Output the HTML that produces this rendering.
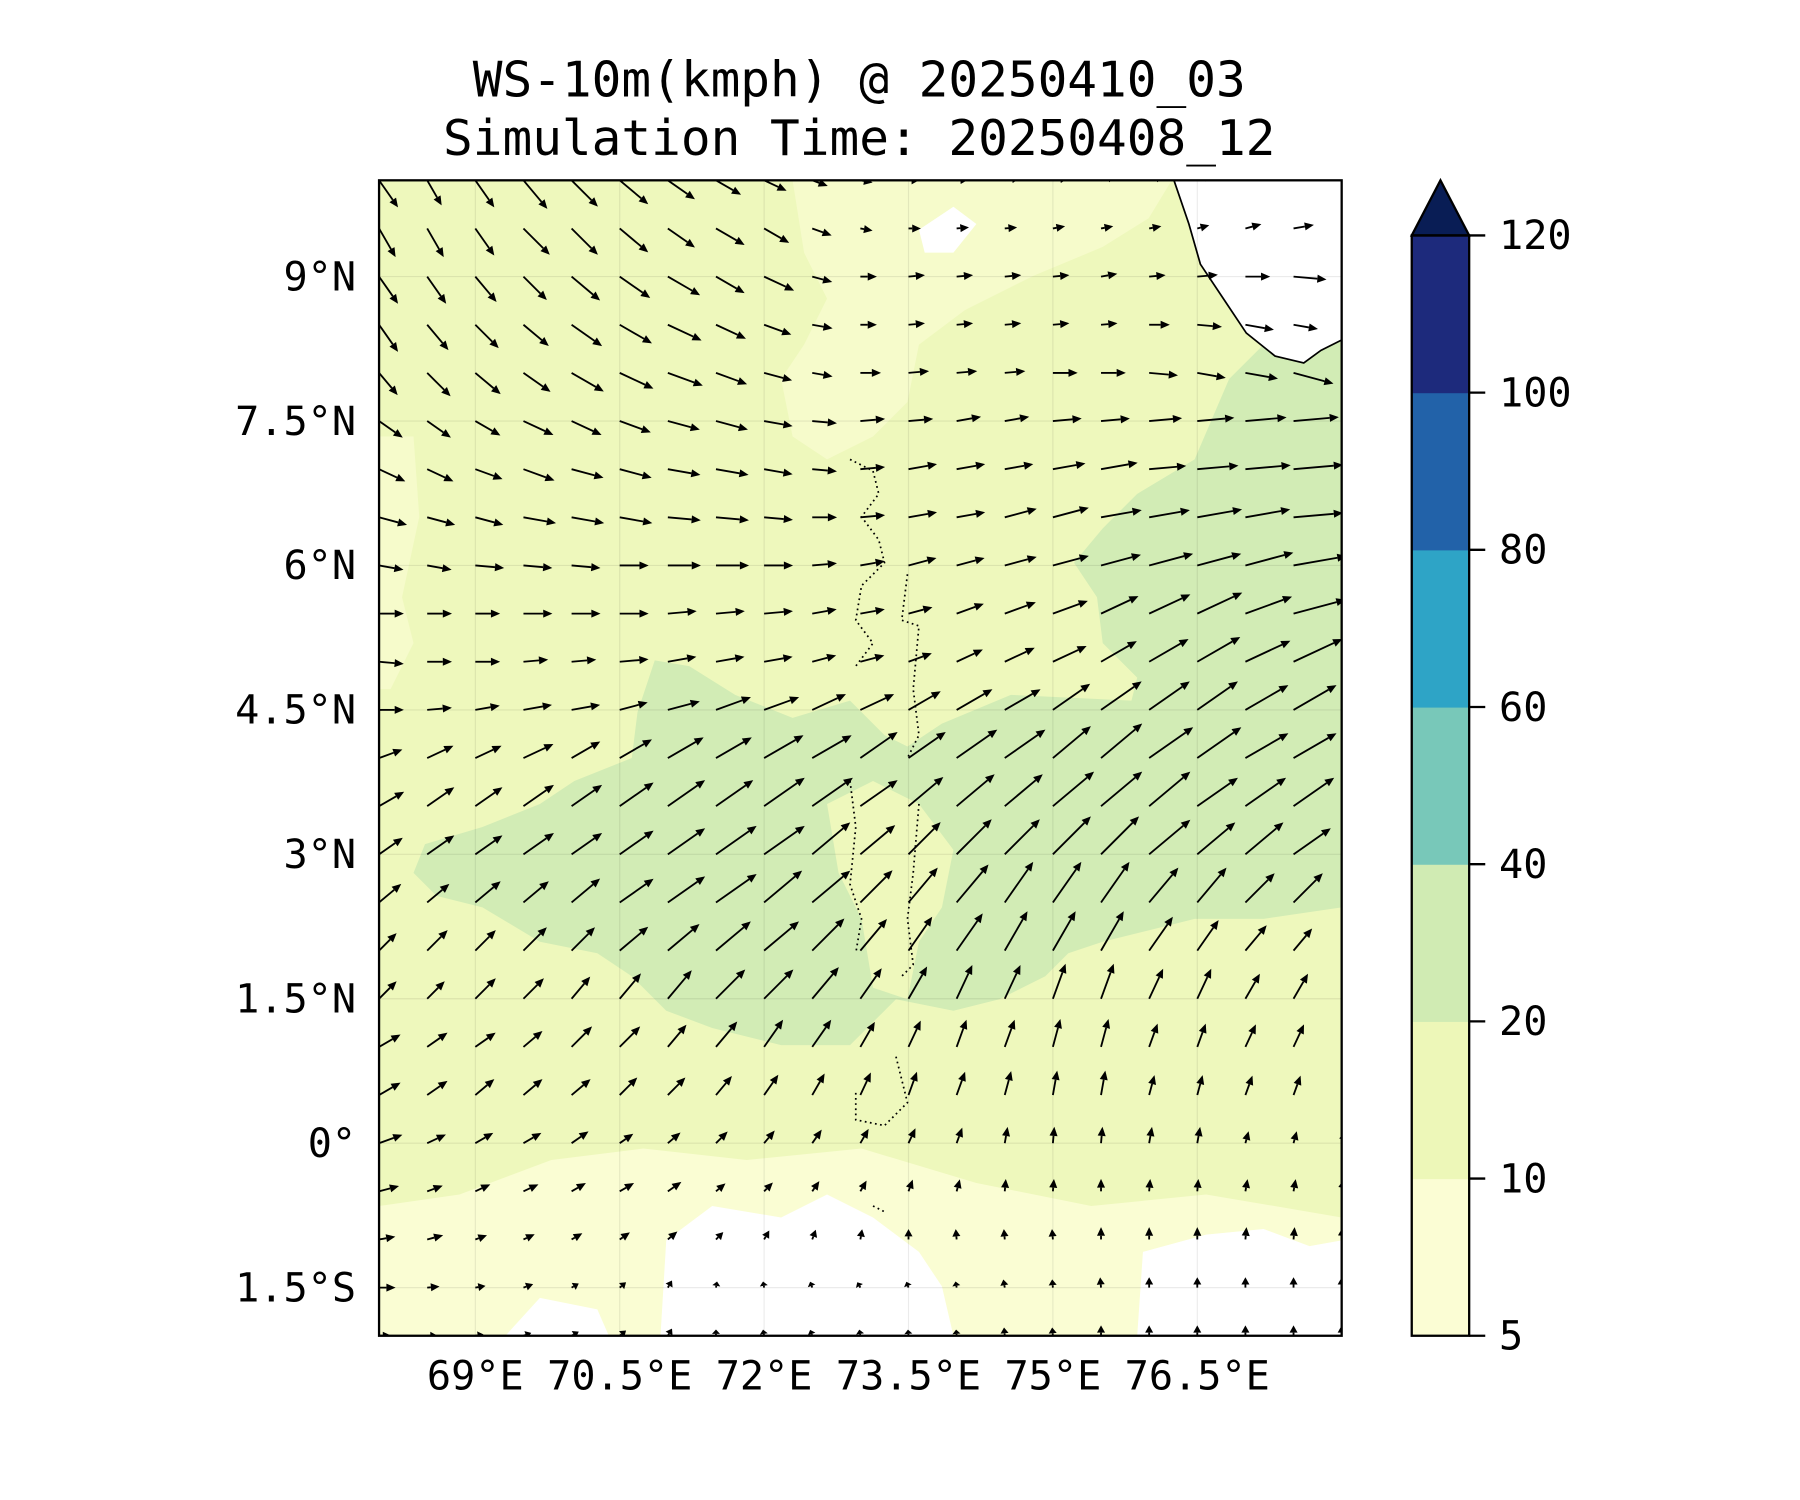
<!DOCTYPE html>
<html><head><meta charset="utf-8"><style>
html,body{margin:0;padding:0;background:#fff}
svg{display:block}
text{font-family:"DejaVu Sans Mono","Liberation Mono",monospace;fill:#000}
</style></head><body>
<svg id="chart" width="1800" height="1500" viewBox="0 0 1567 1306" preserveAspectRatio="none" xmlns="http://www.w3.org/2000/svg">
<defs><clipPath id="mapclip"><rect x="330" y="157" width="838" height="1006"/></clipPath></defs>
<text x="748" y="84" font-size="43" text-anchor="middle">WS-10m(kmph) @ 20250410_03</text>
<text x="748" y="135" font-size="43" text-anchor="middle">Simulation Time: 20250408_12</text>
<g clip-path="url(#mapclip)">
<rect x="330" y="157" width="838" height="1006" fill="#eef8bc"/>
<path fill="#f6fbcb" d="M690,157 L1020,157 L1000,190 L960,215 L900,240 L840,270 L800,300 L790,350 L760,380 L720,400 L690,380 L680,330 L700,300 L720,260 L700,220 Z"/>
<path fill="#f6fbcb" d="M330,380 L360,380 L365,450 L350,520 L360,560 L340,600 L330,600 Z"/>
<path fill="#fafdd3" d="M330,1050 L400,1040 L480,1010 L560,1000 L650,1010 L750,1000 L850,1030 L950,1050 L1050,1040 L1168,1060 L1168,1163 L330,1163 Z"/>
<path fill="#d2ecb5" d="M1168,220 L1105,230 L1100,300 L1070,330 L1040,400 L990,430 L960,460 L935,490 L955,520 L960,560 L990,590 L985,610 L880,605 L820,630 L790,650 L770,640 L740,610 L690,625 L640,605 L600,580 L570,575 L555,620 L550,660 L500,680 L470,700 L420,720 L370,735 L360,760 L380,780 L420,790 L470,820 L520,830 L550,850 L580,880 L620,895 L680,910 L740,910 L780,870 L830,880 L870,870 L910,850 L930,830 L960,820 L1000,810 L1040,800 L1100,800 L1168,790 Z"/>
<path fill="#eef8bc" d="M720,700 L760,680 L800,700 L830,740 L820,790 L800,820 L790,870 L760,860 L750,800 L730,760 Z"/>
<path fill="#ffffff" d="M575,1163 L580,1080 L620,1050 L680,1060 L720,1040 L760,1060 L800,1090 L820,1120 L830,1163 Z"/>
<path fill="#ffffff" d="M990,1163 L995,1090 L1050,1075 L1100,1070 L1140,1085 L1168,1080 L1168,1163 Z"/>
<path fill="#ffffff" d="M440,1163 L470,1130 L520,1140 L530,1163 Z"/>
<path fill="#ffffff" d="M800,200 L830,180 L850,195 L830,220 L805,220 Z"/>
<path fill="#ffffff" d="M1022,157 L1168,157 L1168,296 L1150,305 L1135,316 L1110,310 L1085,290 L1065,260 L1045,230 L1035,195 Z"/>
<path fill="none" stroke="#000" stroke-width="1.5" d="M1022,157 L1035,195 L1045,230 L1065,260 L1085,290 L1110,310 L1135,316 L1150,305 L1168,296"/>
<path fill="none" stroke="#000" stroke-width="1.5" stroke-dasharray="1.5,3" d="M740,400 L760,410 L765,430 L750,450 L765,470 L770,490 L750,510 L745,540 L760,560 L745,580 M790,500 L785,540 L800,545 L795,600 L800,640 L790,660 M740,680 L745,720 L740,770 L750,800 L745,830 M800,700 L795,760 L790,800 L795,840 L785,850 M780,920 L790,960 L770,980 L745,975 L745,950 M760,1050 L770,1055"/>
</g>
<g id="grid" clip-path="url(#mapclip)"></g>
<g id="arrows" clip-path="url(#mapclip)"></g>
<rect x="330" y="157" width="838" height="1006" fill="none" stroke="#000" stroke-width="2"/>
<g id="ticks"></g>
<g id="cbar"></g>
<script>
const lonTicks=[69,70.5,72,73.5,75,76.5];
const lonLabels=["69°E","70.5°E","72°E","73.5°E","75°E","76.5°E"];
const latTicks=[9,7.5,6,4.5,3,1.5,0,-1.5];
const latLabels=["9°N","7.5°N","6°N","4.5°N","3°N","1.5°N","0°","1.5°S"];
const cbLevels=[5,10,20,40,60,80,100,120];
const cbColors=["#fbfdd4","#edf7b8","#d0ebb3","#78c8b9","#2ea4c6","#2262a9","#1d2a7c"];
const gridLats=[10,9.5,9,8.5,8,7.5,7,6.5,6,5.5,5,4.5,4,3.5,3,2.5,2,1.5,1,0.5,0,-0.5,-1,-1.5,-2];
const gridLons=[68,68.5,69,69.5,70,70.5,71,71.5,72,72.5,73,73.5,74,74.5,75,75.5,76,76.5,77,77.5,78];
const windDir=[
[-55,-60,-55,-50,-45,-40,-35,-30,-25,-20,-10,0,5,10,10,15,15,20,20,25,25],
[-60,-60,-55,-45,-45,-40,-35,-30,-30,-20,-10,0,5,5,10,10,10,15,15,10,0],
[-55,-55,-50,-45,-40,-35,-30,-30,-25,-15,0,5,5,5,5,10,5,5,0,-5,-5],
[-55,-50,-45,-40,-35,-30,-25,-25,-20,-10,0,5,5,5,5,5,0,-5,-10,-10,15],
[-50,-45,-40,-35,-30,-25,-20,-20,-15,-10,0,5,5,5,0,0,-5,-10,-10,-15,0],
[-35,-35,-30,-25,-25,-20,-15,-15,-10,-5,5,5,10,10,5,5,5,5,5,5,5],
[-25,-25,-20,-20,-15,-15,-10,-10,-10,-5,5,10,10,10,10,10,5,5,5,5,5],
[-15,-15,-15,-10,-10,-10,-5,-5,-5,0,5,10,10,15,15,10,10,10,10,5,5],
[-10,-10,-5,-5,-5,0,0,0,0,5,10,15,15,15,15,15,15,15,15,10,10],
[0,0,0,0,0,0,5,5,5,10,10,15,20,20,20,25,25,25,20,15,15],
[-5,0,0,5,5,5,10,10,10,15,15,20,25,25,25,30,30,30,25,25,20],
[0,5,10,10,10,15,15,20,20,25,25,30,30,30,35,35,35,35,30,30,25],
[20,25,25,25,30,30,30,30,30,30,35,35,35,35,40,40,35,35,30,30,30],
[30,35,35,35,35,35,35,35,35,35,35,40,40,40,40,40,40,35,35,35,30],
[35,35,35,35,35,35,35,35,35,40,40,45,45,45,45,45,40,40,40,35,35],
[40,40,40,40,40,35,35,35,40,40,45,50,50,55,55,55,50,50,45,45,40],
[45,45,45,45,45,40,40,40,40,45,50,55,55,60,60,60,55,55,50,50,45],
[45,45,45,45,50,50,50,45,45,50,55,60,65,65,70,70,65,65,60,60,55],
[30,35,35,40,45,45,50,50,55,55,60,65,70,70,75,75,70,70,65,65,60],
[30,35,40,40,40,45,45,50,55,60,65,70,70,75,80,80,75,75,70,70,65],
[20,25,30,30,35,35,40,45,50,55,60,65,70,80,85,85,80,80,75,75,70],
[15,20,25,25,30,30,35,40,45,55,60,70,75,85,85,90,85,85,80,80,80],
[10,15,20,25,30,35,40,45,60,70,80,90,95,95,95,90,90,90,85,85,85],
[0,5,10,20,30,40,60,80,100,110,120,110,100,100,95,95,90,90,90,90,90],
[0,0,10,20,30,40,60,90,100,110,100,95,95,95,95,90,90,90,90,90,90]];
const windSpd=[
[16,14,16,18,18,18,16,14,12,8,6,5,6,8,8,8,8,8,10,14,12],
[16,16,16,18,18,18,16,16,14,10,6,6,6,6,6,6,6,6,8,10,10],
[16,16,16,16,18,18,18,16,16,10,8,8,8,8,8,8,8,10,12,16,18],
[16,16,16,16,18,18,18,16,14,10,8,8,8,8,8,8,10,12,14,12,10],
[14,16,16,16,18,18,18,16,14,10,10,10,10,10,12,12,14,14,16,20,20],
[14,14,14,16,16,16,16,16,14,12,12,12,12,12,14,14,16,18,20,22,22],
[14,14,14,16,16,16,16,16,14,12,12,14,14,14,16,18,18,20,22,24,24],
[14,14,14,16,16,16,16,16,14,12,12,14,14,16,18,20,20,22,22,24,24],
[12,12,14,14,14,14,16,16,14,12,12,14,14,16,18,20,22,22,24,26,26],
[12,12,12,14,14,14,14,14,14,12,12,12,14,16,18,20,22,24,24,26,26],
[12,12,12,12,12,14,14,14,14,12,12,12,14,16,18,20,22,24,24,26,26],
[12,12,12,14,14,14,16,18,18,18,18,18,20,20,22,24,24,24,24,24,24],
[12,14,14,16,16,18,20,20,22,22,22,22,24,24,24,26,26,26,24,24,24],
[14,16,16,18,18,20,22,22,24,24,22,22,24,24,26,26,26,24,24,24,24],
[14,16,16,18,18,20,22,24,24,24,22,22,24,24,26,26,26,24,24,22,22],
[14,14,16,16,18,20,22,24,24,24,22,22,24,24,24,24,22,22,20,20,18],
[12,14,14,16,16,18,20,22,22,22,20,20,22,22,22,22,20,18,16,14,14],
[12,12,14,14,14,16,18,20,20,20,18,18,18,18,18,18,16,16,14,14,12],
[12,12,12,12,14,14,14,16,16,16,14,14,14,14,14,14,12,12,12,12,10],
[12,12,12,12,12,12,12,12,12,12,12,12,12,12,12,12,10,10,10,10,8],
[12,10,10,10,10,8,8,8,8,8,8,8,8,8,8,8,8,8,6,6,6],
[10,8,8,8,8,8,8,6,6,6,6,6,6,6,6,6,6,6,6,6,6],
[8,8,6,6,6,6,6,5,5,5,5,5,5,5,5,6,6,6,6,6,6],
[8,6,5,5,4,4,4,3,3,3,3,3,3,4,4,5,5,5,5,5,5],
[6,5,4,4,4,4,4,3,3,3,3,3,3,4,4,5,5,5,5,5,5]];

const NS="http://www.w3.org/2000/svg";
const X0=330,X1=1168,Y0=157,Y1=1163;
function xOf(lon){return X0+(lon-68)*(X1-X0)/10;}
function yOf(lat){return Y0+(10-lat)*(Y1-Y0)/12;}
function cbY(i){return 1163-i*(1163-205)/7;}
function mk(tag,attrs,parent){const e=document.createElementNS(NS,tag);for(const k in attrs)e.setAttribute(k,attrs[k]);parent.appendChild(e);return e;}

const grid=document.getElementById('grid');
lonTicks.forEach(function(lon){
  const l=mk('line',{x1:xOf(lon),x2:xOf(lon),y1:Y0,y2:Y1,stroke:'#000','stroke-opacity':0.08,'stroke-width':1},grid);
  
  
});
latTicks.forEach(function(lat){
  const l=mk('line',{x1:X0,x2:X1,y1:yOf(lat),y2:yOf(lat),stroke:'#000','stroke-opacity':0.08,'stroke-width':1},grid);
  
  
});

const ticks=document.getElementById('ticks');
lonTicks.forEach(function(lon,i){
  const t=mk('text',{x:xOf(lon),y:1210,'font-size':35,'text-anchor':'middle'},ticks);
  t.textContent=lonLabels[i];
  
  
});
latTicks.forEach(function(lat,i){
  const t=mk('text',{x:310,y:yOf(lat)+12,'font-size':35,'text-anchor':'end'},ticks);
  t.textContent=latLabels[i];
  
  
});

const arrows=document.getElementById('arrows');
const SC=1.8;
gridLats.forEach(function(lat,r){
  gridLons.forEach(function(lon,c){
    const a=windDir[r][c]*Math.PI/180, L=windSpd[r][c]*SC;
    const x=xOf(lon), y=yOf(lat);
    const ux=Math.cos(a), uy=-Math.sin(a);
    const hl=Math.min(8,L*0.7), hw=3.5;
    const tx=x+ux*L, ty=y+uy*L;
    const bx=tx-ux*hl, by=ty-uy*hl;
    const g=mk('g',{},arrows);
    
    
    mk('line',{x1:x,y1:y,x2:bx,y2:by,stroke:'#000','stroke-width':1.6},g);
    mk('polygon',{points:tx+','+ty+' '+(bx-uy*hw)+','+(by+ux*hw)+' '+(bx+uy*hw)+','+(by-ux*hw),fill:'#000'},g);
  });
});

const cb=document.getElementById('cbar');
cbColors.forEach(function(col,i){
  const r=mk('rect',{x:1229,y:cbY(i+1),width:50,height:cbY(i)-cbY(i+1)+0.5,fill:col},cb);
  
  
});
const tri=mk('polygon',{points:'1229,205 1254,157 1279,205',fill:'#091d55',stroke:'#000','stroke-width':2},cb);


const fr=mk('rect',{x:1229,y:205,width:50,height:958,fill:'none',stroke:'#000','stroke-width':2},cb);


cbLevels.forEach(function(v,i){
  mk('line',{x1:1279,x2:1293,y1:cbY(i),y2:cbY(i),stroke:'#000','stroke-width':2},cb);
  const t=mk('text',{x:1305,y:cbY(i)+12,'font-size':35},cb);
  t.textContent=String(v);
  
  
});
</script>
</svg>
</body></html>
